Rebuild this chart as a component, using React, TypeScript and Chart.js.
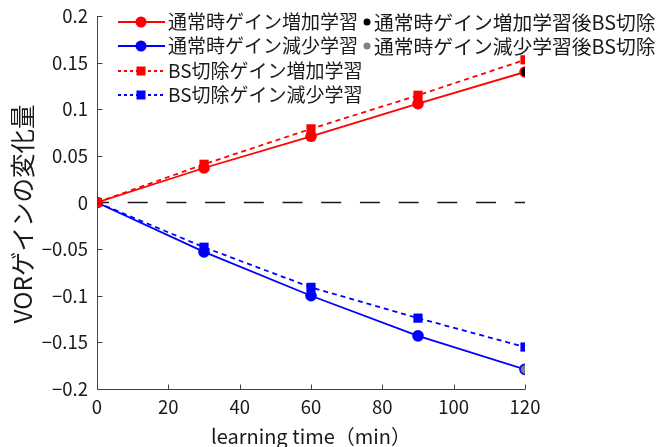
import React, { useEffect, useRef } from 'react';
import { Chart, registerables } from 'chart.js';

Chart.register(...registerables);

const times = [0, 30, 60, 90, 120];
const normalIncrease = [0, 0.037, 0.071, 0.106, 0.14];
const normalDecrease = [0, -0.053, -0.1, -0.143, -0.179];
const bsIncrease = [0, 0.041, 0.079, 0.115, 0.153];
const bsDecrease = [0, -0.048, -0.091, -0.124, -0.155];
const afterBsTime = [120];
const afterBsIncrease = [0.14];
const afterBsDecrease = [-0.179];
const zeroLineX = [0, 120];
const zeroLineY = [0, 0];

const xTicks = [0, 20, 40, 60, 80, 100, 120];
const yTicks = [-0.2, -0.15, -0.1, -0.05, 0, 0.05, 0.1, 0.15, 0.2];
const yTickLabels = ['−0.2', '−0.15', '−0.1', '−0.05', '0', '0.05', '0.1', '0.15', '0.2'];

const seriesLabels = [
  '通常時ゲイン増加学習',
  '通常時ゲイン減少学習',
  'BS切除ゲイン増加学習',
  'BS切除ゲイン減少学習',
  '通常時ゲイン増加学習後BS切除',
  '通常時ゲイン減少学習後BS切除',
];
const xTitle = 'learning time（min）';
const yTitle = 'VORゲインの変化量';

const RED = '#ff0000';
const BLUE = '#0000ff';
const FONT = '"Noto Sans CJK JP", "Noto Sans", sans-serif';
const TEXT = '#1a1a1a';
const AXIS = '#404040';

const pts = (xs: number[], ys: number[]) => xs.map((x, i) => ({ x, y: ys[i] }));

const axesPlugin = {
  id: 'innerAxes',
  afterDatasetsDraw(chart: any) {
    const { ctx, chartArea, scales } = chart;
    const xs = scales.x;
    const ys = scales.y;
    ctx.save();
    ctx.strokeStyle = AXIS;
    ctx.lineWidth = 1;
    ctx.beginPath();
    const lx = Math.round(chartArea.left) + 0.5;
    const by = Math.round(chartArea.bottom) + 0.5;
    ctx.moveTo(lx, chartArea.top);
    ctx.lineTo(lx, by);
    ctx.lineTo(chartArea.right, by);
    yTicks.forEach((v) => {
      const y = Math.round(ys.getPixelForValue(v)) + 0.5;
      ctx.moveTo(lx, y);
      ctx.lineTo(lx + 5, y);
    });
    xTicks.forEach((v) => {
      const x = Math.round(xs.getPixelForValue(v)) + 0.5;
      ctx.moveTo(x, by);
      ctx.lineTo(x, by - 5);
    });
    ctx.stroke();
    // y axis title
    ctx.translate(23, 214);
    ctx.rotate(-Math.PI / 2);
    ctx.font = `24.5px ${FONT}`;
    ctx.fillStyle = TEXT;
    ctx.textAlign = 'center';
    ctx.textBaseline = 'middle';
    ctx.fillText(yTitle, 0, 0);
    ctx.restore();
  },
};

const legendPlugin = {
  id: 'customLegend',
  afterDraw(chart: any) {
    const { ctx } = chart;
    ctx.save();
    ctx.font = `19px ${FONT}`;
    ctx.textBaseline = 'middle';
    ctx.fillStyle = TEXT;
    const rows = [22, 46, 71, 95];
    const l0 = 118;
    const l1 = 165;
    const mx = 141;
    const tx = 168;
    const items = [
      { color: RED, dash: [] as number[], shape: 'circle', label: seriesLabels[0] },
      { color: BLUE, dash: [] as number[], shape: 'circle', label: seriesLabels[1] },
      { color: RED, dash: [3, 3], shape: 'rect', label: seriesLabels[2] },
      { color: BLUE, dash: [3, 3], shape: 'rect', label: seriesLabels[3] },
    ];
    items.forEach((it, i) => {
      const y = rows[i];
      ctx.strokeStyle = it.color;
      ctx.lineWidth = 1.8;
      ctx.setLineDash(it.dash);
      ctx.beginPath();
      ctx.moveTo(l0, y);
      ctx.lineTo(l1, y);
      ctx.stroke();
      ctx.setLineDash([]);
      ctx.fillStyle = it.color;
      if (it.shape === 'circle') {
        ctx.beginPath();
        ctx.arc(mx, y, 5.5, 0, Math.PI * 2);
        ctx.fill();
      } else {
        ctx.fillRect(mx - 4.5, y - 4.5, 9, 9);
      }
      ctx.fillStyle = TEXT;
      ctx.fillText(it.label, tx, y);
    });
    const col2 = [
      { color: '#000000', label: seriesLabels[4] },
      { color: '#808080', label: seriesLabels[5] },
    ];
    ctx.font = `19.8px ${FONT}`;
    col2.forEach((it, i) => {
      const y = rows[i];
      ctx.fillStyle = it.color;
      ctx.beginPath();
      ctx.arc(367, y, 3.5, 0, Math.PI * 2);
      ctx.fill();
      ctx.fillStyle = TEXT;
      ctx.fillText(it.label, 374, y);
    });
    ctx.restore();
  },
};

export default function App() {
  const ref = useRef<HTMLCanvasElement | null>(null);
  useEffect(() => {
    document.body.style.margin = '0';
    const canvas = ref.current;
    if (!canvas) return;
    const chart = new Chart(canvas, {
      type: 'line',
      data: {
        datasets: [
          {
            label: seriesLabels[4],
            data: pts(afterBsTime, afterBsIncrease),
            showLine: false,
            pointRadius: 4.2,
            pointBackgroundColor: '#000000',
            pointBorderWidth: 0,
            borderColor: '#000000',
          },
          {
            label: seriesLabels[5],
            data: pts(afterBsTime, afterBsDecrease),
            showLine: false,
            pointRadius: 4.2,
            pointBackgroundColor: '#808080',
            pointBorderWidth: 0,
            borderColor: '#808080',
          },
          {
            label: seriesLabels[0],
            data: pts(times, normalIncrease),
            borderColor: RED,
            backgroundColor: RED,
            borderWidth: 1.8,
            pointRadius: 5.8,
            pointBorderWidth: 0,
            pointBackgroundColor: RED,
          },
          {
            label: seriesLabels[1],
            data: pts(times, normalDecrease),
            borderColor: BLUE,
            backgroundColor: BLUE,
            borderWidth: 1.8,
            pointRadius: 5.8,
            pointBorderWidth: 0,
            pointBackgroundColor: BLUE,
          },
          {
            label: seriesLabels[2],
            data: pts(times, bsIncrease),
            borderColor: RED,
            backgroundColor: RED,
            borderWidth: 1.8,
            borderDash: [5, 4],
            pointStyle: 'rect',
            pointRadius: 6.5,
            pointBorderWidth: 0,
            pointBackgroundColor: RED,
          },
          {
            label: seriesLabels[3],
            data: pts(times, bsDecrease),
            borderColor: BLUE,
            backgroundColor: BLUE,
            borderWidth: 1.8,
            borderDash: [5, 4],
            pointStyle: 'rect',
            pointRadius: 6.5,
            pointBorderWidth: 0,
            pointBackgroundColor: BLUE,
          },
          {
            label: 'zero',
            data: pts(zeroLineX, zeroLineY),
            borderColor: '#1a1a1a',
            borderWidth: 1.6,
            borderDash: [20, 18.7],
            borderDashOffset: 8,
            pointRadius: 0,
          },
        ],
      },
      options: {
        responsive: false,
        animation: false,
        layout: { padding: { top: 16, right: 146, left: 0, bottom: 0 } },
        plugins: {
          legend: { display: false },
          tooltip: { enabled: false },
        },
        scales: {
          x: {
            type: 'linear',
            min: 0,
            max: 120,
            afterBuildTicks: (s: any) => {
              s.ticks = xTicks.map((v) => ({ value: v }));
            },
            ticks: {
              font: { family: FONT, size: 18.5 },
              color: TEXT,
              padding: 7,
              maxRotation: 0,
            },
            grid: { display: false, drawTicks: false },
            border: { display: false },
            title: {
              display: true,
              text: xTitle,
              font: { family: FONT, size: 20, lineHeight: 1 },
              color: TEXT,
              padding: { top: 0, bottom: 1 },
            },
            afterFit: (s: any) => {
              s.height = 58;
              s.paddingLeft = 0;
              s.paddingRight = 0;
            },
          },
          y: {
            type: 'linear',
            min: -0.2,
            max: 0.2,
            afterBuildTicks: (s: any) => {
              s.ticks = yTicks.map((v) => ({ value: v }));
            },
            ticks: {
              font: { family: FONT, size: 18.5 },
              color: TEXT,
              padding: 9,
              callback: (v: any) => {
                const i = yTicks.findIndex((t) => Math.abs(t - Number(v)) < 1e-9);
                return i >= 0 ? yTickLabels[i] : '';
              },
            },
            grid: { display: false, drawTicks: false },
            border: { display: false },
            title: { display: false },
            afterFit: (s: any) => {
              s.width = 97;
              s.paddingTop = 0;
              s.paddingBottom = 0;
            },
          },
        },
      },
      plugins: [axesPlugin, legendPlugin],
    });
    return () => chart.destroy();
  }, []);
  return (
    <div style={{ position: 'fixed', left: 0, top: 0, width: 671, height: 447, background: '#fff' }}>
      <canvas ref={ref} width={671} height={447} />
    </div>
  );
}
